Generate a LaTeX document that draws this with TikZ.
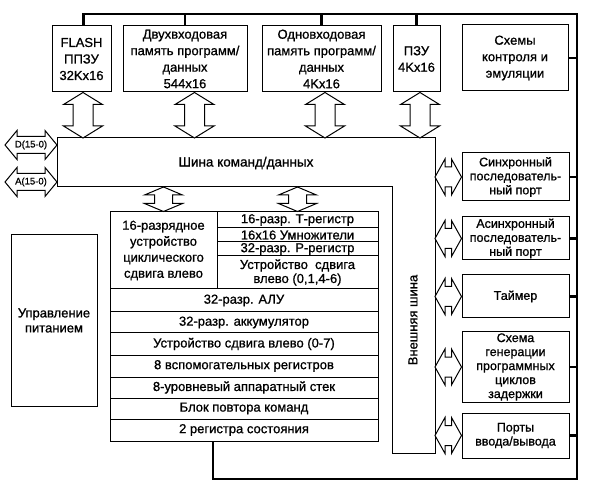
\documentclass[tikz,border=0pt]{standalone}
\usepackage{fontspec}
\setmainfont[UprightFeatures={FakeBold=0.9}]{Liberation Sans}
\usetikzlibrary{calc}
\newcommand\fsA{\fontsize{13}{16.5}\selectfont}
\newcommand\fsB{\fontsize{12.5}{14}\selectfont}
\newcommand\fsC{\fontsize{9.5}{11}\selectfont}
% vertical double block arrow: #1 top point, #2 bottom point, #3 body half width, #4 head half width, #5 head length
\newcommand{\varrow}[5]{%
\draw[blockarr] let \p1=(#1), \p2=(#2) in
 (\x1,\y1) -- ({\x1+#4pt},{\y1-#5pt}) -- ({\x1+#3pt},{\y1-#5pt}) -- ({\x1+#3pt},{\y2+#5pt})
 -- ({\x1+#4pt},{\y2+#5pt}) -- (\x1,\y2) -- ({\x1-#4pt},{\y2+#5pt}) -- ({\x1-#3pt},{\y2+#5pt})
 -- ({\x1-#3pt},{\y1-#5pt}) -- ({\x1-#4pt},{\y1-#5pt}) -- cycle;}
% horizontal double block arrow: #1 left point, #2 right point
\newcommand{\harrow}[5]{%
\draw[blockarr] let \p1=(#1), \p2=(#2) in
 (\x1,\y1) -- ({\x1+#5pt},{\y1+#4pt}) -- ({\x1+#5pt},{\y1+#3pt}) -- ({\x2-#5pt},{\y1+#3pt})
 -- ({\x2-#5pt},{\y1+#4pt}) -- (\x2,\y1) -- ({\x2-#5pt},{\y1-#4pt}) -- ({\x2-#5pt},{\y1-#3pt})
 -- ({\x1+#5pt},{\y1-#3pt}) -- ({\x1+#5pt},{\y1-#4pt}) -- cycle;}
\begin{document}
\begin{tikzpicture}[x=1pt,y=-1pt,
  box/.style={draw, line width=1pt, fill=white, align=center, inner sep=0pt, font=\fsA},
  pbox/.style={box, font=\fsB},
  row/.style={draw, line width=1pt, inner sep=0pt, font=\fsA, align=center},
  bus/.style={line width=2.8pt, line join=miter},
  blockarr/.style={draw, line width=1pt, fill=white, line join=miter},
  lab/.style={inner sep=0pt, font=\fsA}]
\useasboundingbox (0,0) rectangle (590,492);

% memory boxes
\node[box, minimum width=59pt, minimum height=66pt] (flash) at (81.5,59) {FLASH\\ППЗУ\\32Kx16};
\node[box, minimum width=124pt, minimum height=66pt] (dual) at (185,59) {Двухвходовая\\память программ/\\данных\\544x16};
\node[box, minimum width=119pt, minimum height=66pt] (single) at (321.5,59) {Одновходовая\\память программ/\\данных\\4Kx16};
\node[box, minimum width=47pt, minimum height=66pt] (pzu) at (416.5,59) {ПЗУ\\4Kx16};
\node[box, minimum width=106pt, minimum height=66pt] (ctrl) at (515,58) {Схемы\\контроля и\\эмуляции};

% peripheral boxes
\node[pbox, minimum width=107pt, minimum height=48pt] (sync) at (515.5,177) {Синхронный\\последователь-\\ный порт};
\node[pbox, minimum width=107pt, minimum height=43pt] (async) at (515.5,238.5) {Асинхронный\\последователь-\\ный порт};
\node[pbox, minimum width=107pt, minimum height=43pt] (timer) at (515.5,296.5) {Таймер};
\node[pbox, minimum width=107pt, minimum height=70pt] (gen) at (515.5,367) {Схема\\генерации\\программных\\циклов\\задержки};
\node[pbox, minimum width=107pt, minimum height=45pt] (ports) at (515.5,435.5) {Порты\\ввода/вывода};

% power
\node[box, font=\fontsize{13}{15}\selectfont, minimum width=86pt, minimum height=171pt] (power) at (54,320.5) {Управление\\питанием};

% bus (L shape)
\draw[line width=1pt, fill=white] (57,138) coordinate (busTL) -- (435,138) coordinate (busTR)
  -- (435,453) -- (392,453) -- (392,187) -- (57,187) coordinate (busBL) -- cycle;
\node[lab, font=\fontsize{13.5}{16}\selectfont] (buslab) at (246,163) {Шина команд/данных};
\node[lab, rotate=90] (extlab) at (413,320) {Внешняя шина};

% core
\node[row, minimum width=107pt, minimum height=77pt, font=\fontsize{13}{16}\selectfont] (rot) at (163.5,250.5) {16-разрядное\\устройство\\циклического\\сдвига влево};
\node[row, minimum width=161pt, minimum height=16pt] (treg) at (297.5,220) {16-разр. Т-регистр};
\node[row, minimum width=161pt, minimum height=14pt] (mult) at (297.5,235) {16x16 Умножители};
\node[row, minimum width=161pt, minimum height=14pt] (preg) at (297.5,249) {32-разр. Р-регистр};
\node[row, minimum width=161pt, minimum height=33pt, font=\fontsize{13}{14}\selectfont] (sh1) at (297.5,272.5) {Устройство~~сдвига\\влево (0,1,4-6)};
\node[row, minimum width=268pt, minimum height=23pt] (alu) at (244,300.5) {32-разр. АЛУ};
\node[row, minimum width=268pt, minimum height=21pt] (acc) at (244,322.5) {32-разр. аккумулятор};
\node[row, minimum width=268pt, minimum height=22pt] (sh2) at (244,344) {Устройство сдвига влево (0-7)};
\node[row, minimum width=268pt, minimum height=22pt] (aux) at (244,366) {8 вспомогательных регистров};
\node[row, minimum width=268pt, minimum height=21pt] (stk) at (244,387.5) {8-уровневый аппаратный стек};
\node[row, minimum width=268pt, minimum height=21pt] (rep) at (244,408.5) {Блок повтора команд};
\node[row, minimum width=268pt, minimum height=22pt] (st) at (244,430) {2 регистра состояния};

% thick external lines
\coordinate (tr) at (577,14);
\coordinate (br) at (577,479);
\coordinate (bl) at (213,479);
\draw[bus] ([xshift=2pt]flash.north) |- (tr) -- (br) -- (bl) -- (bl |- st.south);
\foreach \nd in {dual,single,pzu} \draw[bus] (\nd.north) -- (\nd.north |- tr);
\foreach \nd in {ctrl,sync,async,timer,gen,ports} \draw[bus] (\nd.east) -- (\nd.east -| tr);

% vertical arrows memory <-> bus
\coordinate (a1) at ([xshift=1.5pt]flash.south);
\coordinate (a2) at ([xshift=9.5pt]dual.south);
\coordinate (a3) at ([xshift=3.5pt]single.south);
\coordinate (a4) at ([xshift=3.5pt]pzu.south);
\varrow{a1}{a1 |- busTL}{10}{19.5}{12}
\varrow{a2}{a2 |- busTL}{10}{19.5}{12}
\varrow{a3}{a3 |- busTL}{10}{19.5}{12}
\varrow{a4}{a4 |- busTL}{10}{19.5}{12}

% bus <-> core
\varrow{rot.north |- busBL}{rot.north}{9}{19}{8}
\varrow{treg.north |- busBL}{treg.north}{9}{19}{8}

% bus <-> peripherals
\harrow{sync.west -| busTR}{sync.west}{10}{18}{10}
\harrow{async.west -| busTR}{async.west}{10}{18}{10}
\harrow{timer.west -| busTR}{timer.west}{10}{18}{10}
\harrow{gen.west -| busTR}{gen.west}{10}{18}{10}
\harrow{ports.west -| busTR}{ports.west}{10}{18}{10}

% D and A buses
\coordinate (dL) at (5,145);
\coordinate (aL) at (5,182);
\harrow{dL}{dL -| busTL}{8.5}{14.5}{12}
\harrow{aL}{aL -| busTL}{8.5}{14.5}{12}
\node[inner sep=0pt, font=\fsC] (dlab) at ($(dL)!0.5!(dL -| busTL)$) {D(15-0)};
\node[inner sep=0pt, font=\fsC] (alab) at ($(aL)!0.5!(aL -| busTL)$) {A(15-0)};
\end{tikzpicture}
\end{document}
